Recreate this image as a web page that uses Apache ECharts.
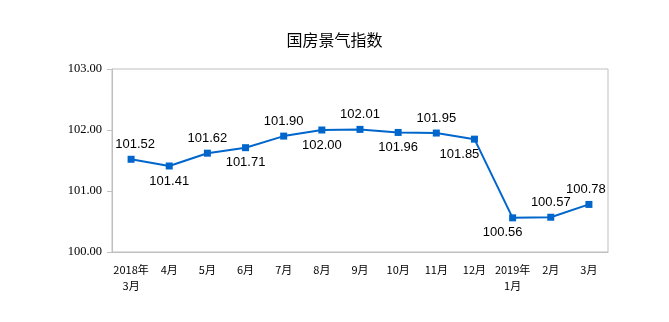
<!DOCTYPE html>
<html><head><meta charset="utf-8">
<script src="https://cdn.jsdelivr.net/npm/echarts@6/dist/echarts.min.js"></script>
<style>html,body{margin:0;padding:0;background:#fff}#c{width:669px;height:322px}</style>
</head><body><div id="c"></div>
<script>
const categories = ['2018年\n3月','4月','5月','6月','7月','8月','9月','10月','11月','12月','2019年\n1月','2月','3月'];
const values = [101.52,101.41,101.62,101.71,101.90,102.00,102.01,101.96,101.95,101.85,100.56,100.57,100.78];
const yTicks = [100, 101, 102, 103];

const below = new Set([1,3,5,7,9,10]);
const xShift = {0: 4, 9: -15, 10: -10, 12: -3};
const chart = echarts.init(document.getElementById('c'));
chart.setOption({
  animation: false,
  title: { text: '国房景气指数', left: 'center', top: 27,
    textStyle: { fontFamily: 'Noto Sans CJK SC', fontSize: 16, fontWeight: 'normal', color: '#000' } },
  grid: { left: 112, right: 61, top: 69, bottom: 70, show: true, borderColor: '#bfbfbf', borderWidth: 1 },
  xAxis: {
    type: 'category', data: categories, boundaryGap: true,
    axisLine: { lineStyle: { color: '#bfbfbf' } },
    axisTick: { inside: true, length: 5, lineStyle: { color: '#bfbfbf' } },
    axisLabel: { color: '#000', fontSize: 11, fontFamily: 'Noto Sans CJK SC', lineHeight: 16, margin: 10, interval: 0 }
  },
  yAxis: {
    type: 'value', min: yTicks[0], max: yTicks[yTicks.length-1], interval: 1,
    axisLine: { show: true, lineStyle: { color: '#bfbfbf' } },
    axisTick: { show: true, inside: false, length: 5, lineStyle: { color: '#bfbfbf' } },
    splitLine: { show: false },
    axisLabel: { color: '#000', fontSize: 12.5, fontFamily: 'Liberation Serif', margin: 10,
      formatter: v => v.toFixed(2) }
  },
  series: [{
    type: 'line', data: values.map((v, i) => ({
      value: v,
      label: { position: below.has(i) ? 'bottom' : 'top', offset: [xShift[i] || 0, 0] }
    })),
    symbol: 'rect', symbolSize: 7,
    lineStyle: { color: '#0066cc', width: 2 },
    itemStyle: { color: '#0066cc' },
    label: { show: true, fontSize: 13, fontFamily: 'Liberation Sans', color: '#000', distance: 5,
      formatter: p => p.value.toFixed(2) }
  }]
});
</script></body></html>
